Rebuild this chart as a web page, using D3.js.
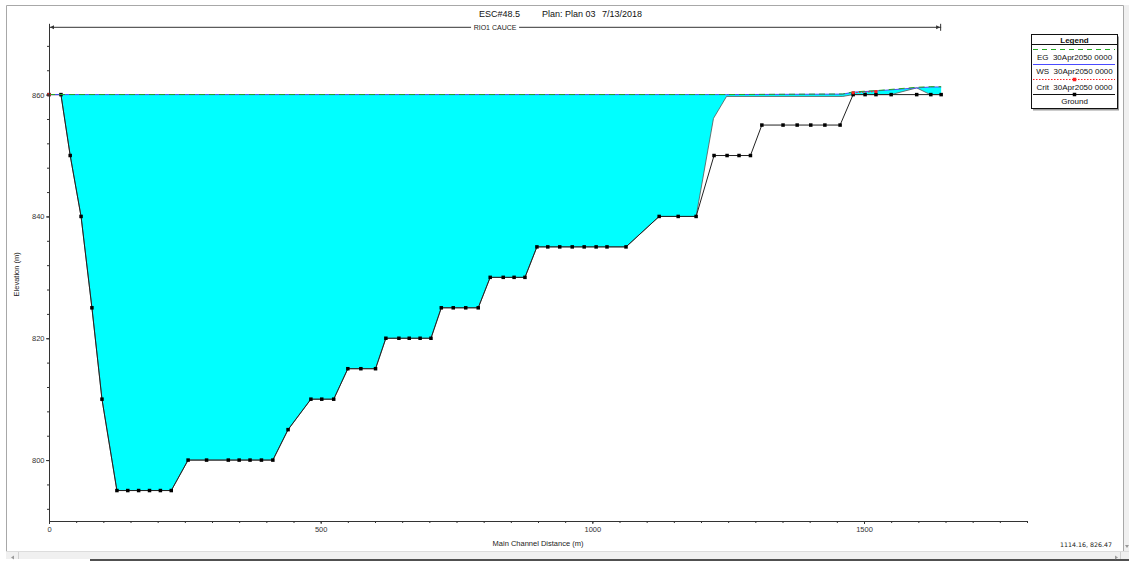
<!DOCTYPE html>
<html><head><meta charset="utf-8">
<script src="https://cdn.jsdelivr.net/npm/d3@7"></script>
<style>
html,body{margin:0;padding:0;background:#fff;}
svg{display:block;font-family:"Liberation Sans",Arial,sans-serif;}
.pre{white-space:pre;}
</style></head><body>
<svg id="chart" width="1129" height="561"></svg>
<script>
// Longitudinal profile of RIO1 CAUCE, reach ESC#48.5

// Channel ground (thalweg) profile
const groundSta  = [0, 22, 39, 59, 79, 97.5, 125, 145, 165, 185, 205, 225,
  256, 290, 330, 350, 370, 391, 412, 440, 482, 502, 524, 550, 574, 601,
  620, 644, 663, 683, 703, 722, 744, 767, 790, 812, 836, 856, 876,
  898, 918, 940, 963, 985, 1007, 1027, 1062, 1123, 1158, 1191,
  1224, 1248, 1270, 1291, 1312, 1351, 1377, 1402, 1428, 1456,
  1480, 1502, 1522, 1550, 1597, 1623, 1642];
const groundElev = [860, 860, 850, 840, 825, 810, 795, 795, 795, 795, 795, 795,
  800, 800, 800, 800, 800, 800, 800, 805, 810, 810, 810, 815, 815, 815,
  820, 820, 820, 820, 820, 825, 825, 825, 825, 830, 830, 830, 830,
  835, 835, 835, 835, 835, 835, 835, 835, 840, 840, 840,
  850, 850, 850, 850, 855, 855, 855, 855, 855, 855,
  860, 860, 860, 860, 860, 860, 860];

// Wetted bottom downstream of the last submerged ground point
const bedFromSta = 1191;
const bedSta  = [1223, 1247, 1461, 1480, 1550, 1597, 1622, 1642];
const bedElev = [856.1, 859.7, 859.7, 860, 860, 861.1, 860, 860];

// Water surface
const wsSta  = [0, 1247, 1461, 1480, 1522, 1597, 1623, 1642];
const wsElev = [860, 860, 860.08, 860.4, 860.6, 861.1, 861.25, 861.25];

// Energy grade line
const egSta  = [0, 1247, 1461, 1480, 1522, 1597, 1623, 1642];
const egElev = [860.01, 860.01, 860.1, 860.45, 860.65, 861.2, 861.3, 861.3];

// Critical water surface
const critSta  = [0, 1480, 1522];
const critElev = [860, 860.3, 860.5];

const xTicksMajor = [0, 500, 1000, 1500];
const yTicksMajor = [800, 820, 840, 860];
const titleParts = ["ESC#48.5", "Plan: Plan 03", "7/13/2018"];
const reachName = "RIO1 CAUCE";
const reachEnd = 1642;
const legendTitle = "Legend";
const legendLabels = ["EG  30Apr2050 0000", "WS  30Apr2050 0000", "Crit  30Apr2050 0000", "Ground"];
const xLabel = "Main Channel Distance (m)";
const yLabel = "Elevation (m)";
const cursorText = "1114.16, 826.47";

const svg = d3.select("#chart");
const x = d3.scaleLinear().domain([0, 1800]).range([49, 1027]);
const y = d3.scaleLinear().domain([790, 871]).range([521, 27.6]);

const zip = (a, b) => a.map((s, i) => [s, b[i]]);
const ground = zip(groundSta, groundElev);
const bed = ground.filter(d => d[0] <= bedFromSta).concat(zip(bedSta, bedElev));
const ws = zip(wsSta, wsElev);
const eg = zip(egSta, egElev);
const crit = zip(critSta, critElev);
const line = d3.line().x(d => x(d[0])).y(d => y(d[1]));

// window frame and scroll bars
svg.append("rect").attr("x", 0).attr("y", 0).attr("width", 1129).attr("height", 561).attr("fill", "#fff");
svg.append("path").attr("d", "M6.5,552 V5.5 H1123.5 V552").attr("fill", "none").attr("stroke", "#a8a8a8");
svg.append("rect").attr("x", 1124).attr("y", 5).attr("width", 5).attr("height", 547).attr("fill", "#f0f0f0");
svg.append("rect").attr("x", 6).attr("y", 552).attr("width", 1123).attr("height", 7).attr("fill", "#f0f0f0");
svg.append("line").attr("x1", 6).attr("x2", 1129).attr("y1", 551.5).attr("y2", 551.5).attr("stroke", "#dcdcdc");
svg.append("rect").attr("x", 90).attr("y", 559).attr("width", 1039).attr("height", 2).attr("fill", "#505050");
svg.append("path").attr("d", "M14,555.5 l-3,2 l3,2z").attr("fill", "#999");
svg.append("path").attr("d", "M1115,555.5 l3,2 l-3,2z").attr("fill", "#999");
svg.append("line").attr("x1", 18.5).attr("x2", 18.5).attr("y1", 552).attr("y2", 559).attr("stroke", "#d0d0d0");
svg.append("line").attr("x1", 1120.5).attr("x2", 1120.5).attr("y1", 552).attr("y2", 559).attr("stroke", "#d0d0d0");
svg.append("path").attr("d", "M1125,545 l2,3 l2,-3z").attr("fill", "#999");

// title
const titleX = [479, 542, 602];
svg.append("g").selectAll("text").data(titleParts).join("text")
  .attr("x", (d, i) => titleX[i]).attr("y", 17)
  .attr("font-size", 9).attr("fill", "#111").text(d => d);

// reach extent marker
const rY = 27.3, rx0 = x(0), rx1 = x(reachEnd);
const rMid = (rx0 + rx1) / 2;
const rg = svg.append("g").attr("stroke", "#333").attr("fill", "#333");
rg.append("line").attr("x1", rx0).attr("x2", rMid - 24).attr("y1", rY).attr("y2", rY);
rg.append("line").attr("x1", rMid + 24).attr("x2", rx1).attr("y1", rY).attr("y2", rY);
rg.append("line").attr("x1", rx0 + 0.5).attr("x2", rx0 + 0.5).attr("y1", rY - 3.5).attr("y2", rY + 3.5);
rg.append("line").attr("x1", rx1 - 0.5).attr("x2", rx1 - 0.5).attr("y1", rY - 3.5).attr("y2", rY + 3.5);
rg.append("path").attr("d", `M${rx0 + 1},${rY} l4,-2 v4z`).attr("stroke", "none");
rg.append("path").attr("d", `M${rx1 - 1},${rY} l-4,-2 v4z`).attr("stroke", "none");
svg.append("text").attr("x", rMid).attr("y", rY + 2.5).attr("text-anchor", "middle")
  .attr("font-size", 7).attr("fill", "#222").text(reachName);

// water body
svg.append("path")
  .attr("d", line(ws.concat(bed.slice().reverse())) + "Z")
  .attr("fill", "#00ffff").attr("stroke", "none");
svg.append("path").attr("d", line(bed))
  .attr("fill", "none").attr("stroke", "#555").attr("stroke-width", 0.8);

// ground
svg.append("path").attr("d", line(ground))
  .attr("fill", "none").attr("stroke", "#222").attr("stroke-width", 1);
svg.append("g").selectAll("rect").data(ground).join("rect")
  .attr("x", d => x(d[0]) - 1.75).attr("y", d => y(d[1]) - 1.75)
  .attr("width", 3.5).attr("height", 3.5).attr("fill", "#000");

// water surface and energy grade
svg.append("path").attr("d", line(ws))
  .attr("fill", "none").attr("stroke", "#4a4aff").attr("stroke-width", 1);
svg.append("path").attr("d", line(eg))
  .attr("fill", "none").attr("stroke", "#22aa22").attr("stroke-width", 1)
  .attr("stroke-dasharray", "6,4");

// critical depth: dotted only between neighbouring computed points
for (let i = 1; i < crit.length; i++) {
  if (crit[i][0] - crit[i - 1][0] < 100) {
    svg.append("path").attr("d", line([crit[i - 1], crit[i]]))
      .attr("fill", "none").attr("stroke", "#ff2020").attr("stroke-width", 1)
      .attr("stroke-dasharray", "1.5,1.5");
  }
}
svg.append("g").selectAll("rect").data(crit).join("rect")
  .attr("x", d => x(d[0]) - 1.5).attr("y", d => y(d[1]) - 1.5)
  .attr("width", 3).attr("height", 3).attr("fill", "#ff2020");

// axes
function styleAxis(g) {
  g.selectAll("path.domain").attr("stroke", "#333");
  g.selectAll(".tick line").attr("stroke", "#333");
  g.selectAll("text").attr("fill", "#333").attr("font-size", 7.5)
    .attr("font-family", "'Liberation Sans', Arial, sans-serif");
}
svg.append("g").attr("transform", "translate(0,521)")
  .call(d3.axisBottom(x).tickValues(d3.range(0, 1801, 50)).tickSize(2).tickSizeOuter(0).tickFormat(""))
  .call(styleAxis);
svg.append("g").attr("transform", "translate(0,521)")
  .call(d3.axisBottom(x).tickValues(xTicksMajor).tickSize(3).tickPadding(2.4).tickSizeOuter(0).tickFormat(d3.format("d")))
  .call(g => g.select(".domain").remove())
  .call(styleAxis);
svg.append("g").attr("transform", "translate(49,0)")
  .call(d3.axisLeft(y).tickValues(d3.range(792, 869, 4)).tickSize(2).tickSizeOuter(0).tickFormat(""))
  .call(styleAxis);
svg.append("g").attr("transform", "translate(49,0)")
  .call(d3.axisLeft(y).tickValues(yTicksMajor).tickSize(3).tickPadding(1.5).tickSizeOuter(0).tickFormat(d3.format("d")))
  .call(g => g.select(".domain").remove())
  .call(styleAxis);

svg.append("text").attr("x", (x.range()[0] + x.range()[1]) / 2).attr("y", 546)
  .attr("text-anchor", "middle").attr("font-size", 7.5).attr("fill", "#222").text(xLabel);
svg.append("text").attr("transform", `translate(19,${(y.range()[0] + y.range()[1]) / 2}) rotate(-90)`)
  .attr("text-anchor", "middle").attr("font-size", 7.5).attr("fill", "#222").text(yLabel);

// legend
const L = {x0: 1031, x1: 1117, y0: 34.5, y1: 108.5};
const lg = svg.append("g");
lg.append("rect").attr("x", L.x0 + 2).attr("y", L.y0 + 2).attr("width", L.x1 - L.x0).attr("height", L.y1 - L.y0).attr("fill", "#9a9a9a");
lg.append("rect").attr("x", L.x0 + 0.5).attr("y", L.y0).attr("width", L.x1 - L.x0).attr("height", L.y1 - L.y0)
  .attr("fill", "#fff").attr("stroke", "#111");
const lc = (L.x0 + L.x1) / 2 + 0.5;
lg.append("text").attr("x", lc).attr("y", 42.5).attr("text-anchor", "middle")
  .attr("font-size", 8).attr("font-weight", "bold").attr("fill", "#111").text(legendTitle);
lg.append("line").attr("x1", L.x0).attr("x2", L.x1).attr("y1", 44.5).attr("y2", 44.5).attr("stroke", "#111");
const sym = [
  {y: 49.5, stroke: "#22aa22", dash: "5,4"},
  {y: 64.5, stroke: "#4a4aff", dash: null},
  {y: 79.5, stroke: "#ff2020", dash: "1.5,1.5", mark: "#ff2020"},
  {y: 94.5, stroke: "#111", dash: null, mark: "#000"}
];
const textY = [59.5, 74, 89.5, 104];
sym.forEach((s, i) => {
  lg.append("line").attr("x1", L.x0 + 2).attr("x2", L.x1 - 2).attr("y1", s.y).attr("y2", s.y)
    .attr("stroke", s.stroke).attr("stroke-dasharray", s.dash);
  if (s.mark) lg.append("rect").attr("x", lc - 1.75).attr("y", s.y - 1.75).attr("width", 3.5).attr("height", 3.5).attr("fill", s.mark);
  lg.append("text").attr("class", "pre").attr("x", lc).attr("y", textY[i]).attr("text-anchor", "middle")
    .attr("font-size", 8).attr("fill", "#111").text(legendLabels[i]);
});

// cursor readout
svg.append("text").attr("x", 1112).attr("y", 546.5).attr("text-anchor", "end")
  .attr("font-family", "'DejaVu Sans', sans-serif").attr("font-size", 6.3).attr("fill", "#222").text(cursorText);
</script>
</body></html>
